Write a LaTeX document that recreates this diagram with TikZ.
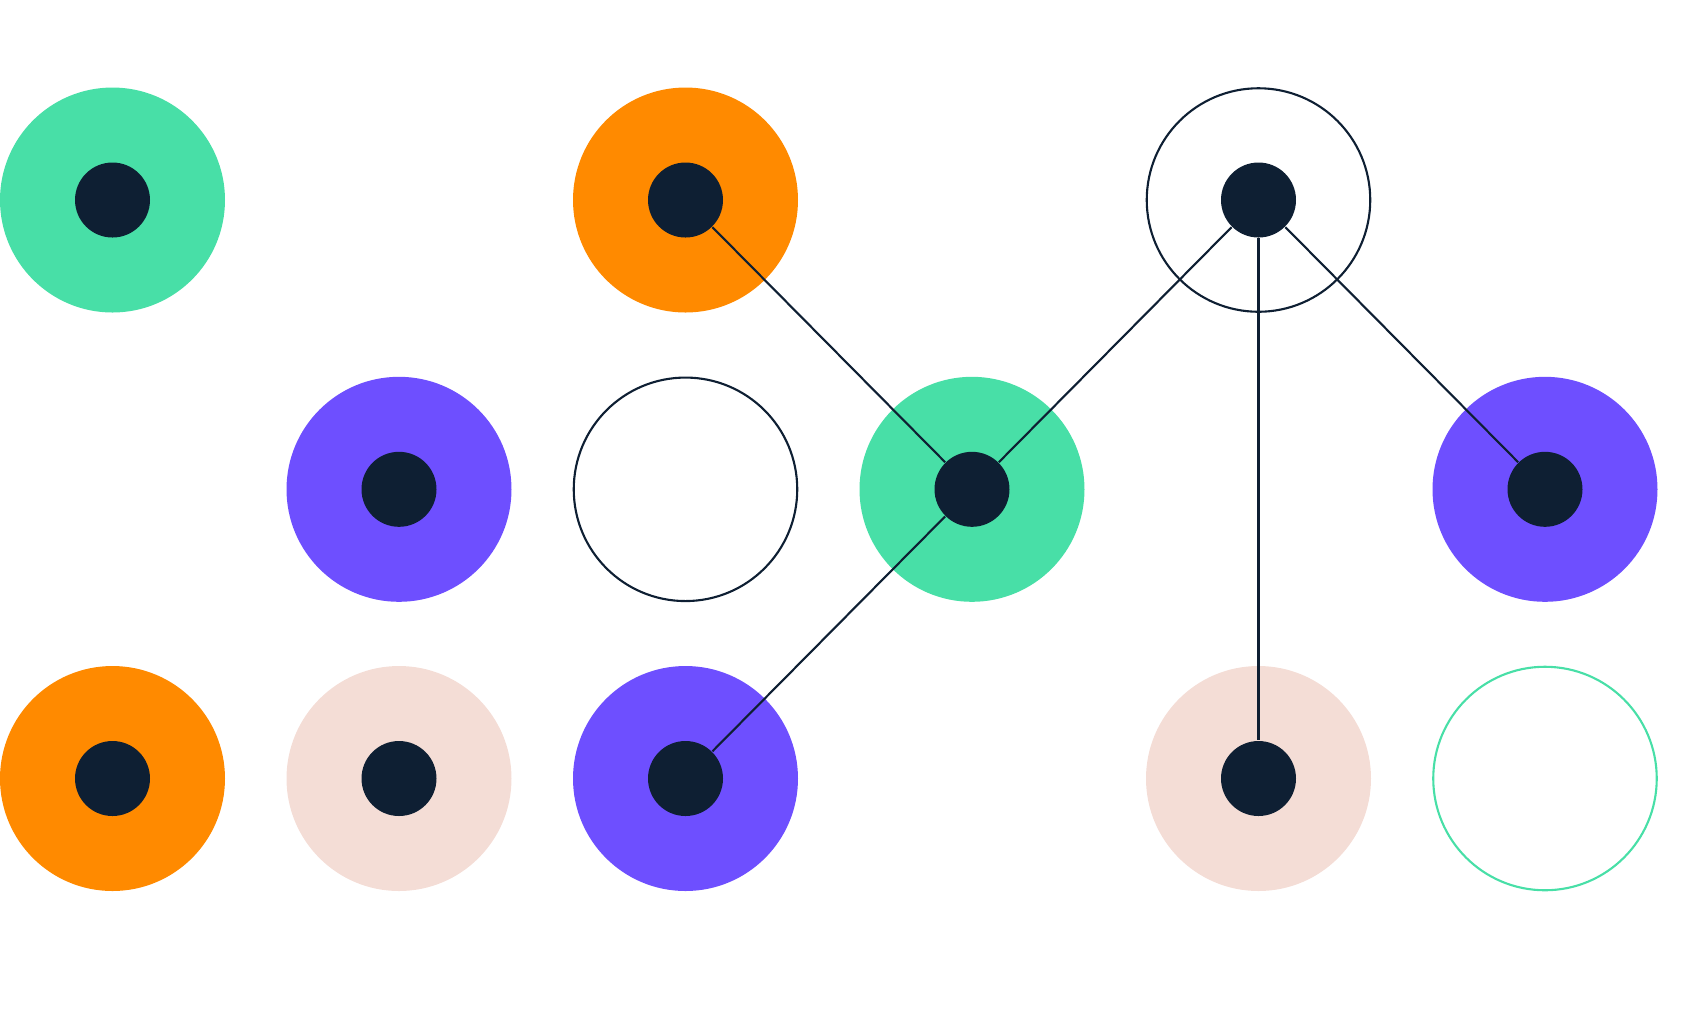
\documentclass[tikz,border=0pt]{standalone}
\usepackage{tikz}
\usetikzlibrary{positioning}
\definecolor{mint}{HTML}{48DFA7}
\definecolor{tangerine}{HTML}{FF8A00}
\definecolor{violet}{HTML}{6E4FFF}
\definecolor{blush}{HTML}{F4DDD6}
\definecolor{navy}{HTML}{0E1F33}

\begin{document}
\begin{tikzpicture}[
  ring/.style={circle,inner sep=0pt,minimum size=2.25cm,fill=#1},
  hollow/.style={circle,inner sep=0pt,minimum size=2.235cm,draw=#1,line width=0.6pt},
  dot/.style={circle,inner sep=0pt,minimum size=0.75cm,fill=navy},
  link/.style={draw=navy,line width=0.6pt}]
\useasboundingbox (0,0) rectangle (16.82,-10.12);
% outer rings
\node (mintA)   [ring=mint]      at (1.125,-2.0)    {};
\node (orangeA) [ring=tangerine] at (6.855,-2.0)    {};
\node (openA)   [hollow=navy]    at (12.585,-2.0)   {};
\node (violetA) [ring=violet]    at (3.99,-4.893)   {};
\node (openB)   [hollow=navy]    at (6.855,-4.893)  {};
\node (mintB)   [ring=mint]      at (9.72,-4.893)   {};
\node (violetB) [ring=violet]    at (15.45,-4.893)  {};
\node (orangeB) [ring=tangerine] at (1.125,-7.785)  {};
\node (pinkA)   [ring=blush]     at (3.99,-7.785)   {};
\node (violetC) [ring=violet]    at (6.855,-7.785)  {};
\node (pinkB)   [ring=blush]     at (12.585,-7.785) {};
\node (openC)   [hollow=mint]    at (15.45,-7.785)  {};
% inner dots
\node (d1)  [dot] at (mintA)   {};
\node (d2)  [dot] at (orangeA) {};
\node (d3)  [dot] at (openA)   {};
\node (d4)  [dot] at (violetA) {};
\node (hub) [dot] at (mintB)   {};
\node (d6)  [dot] at (violetB) {};
\node (d7)  [dot] at (orangeB) {};
\node (d8)  [dot] at (pinkA)   {};
\node (d9)  [dot] at (violetC) {};
\node (d10) [dot] at (pinkB)   {};
% links
\draw[link] (d2) -- (hub);
\draw[link] (hub) -- (d3);
\draw[link] (hub) -- (d9);
\draw[link] (d3) -- (d6);
\draw[link] (d3) -- (d10);
\end{tikzpicture}
\end{document}
